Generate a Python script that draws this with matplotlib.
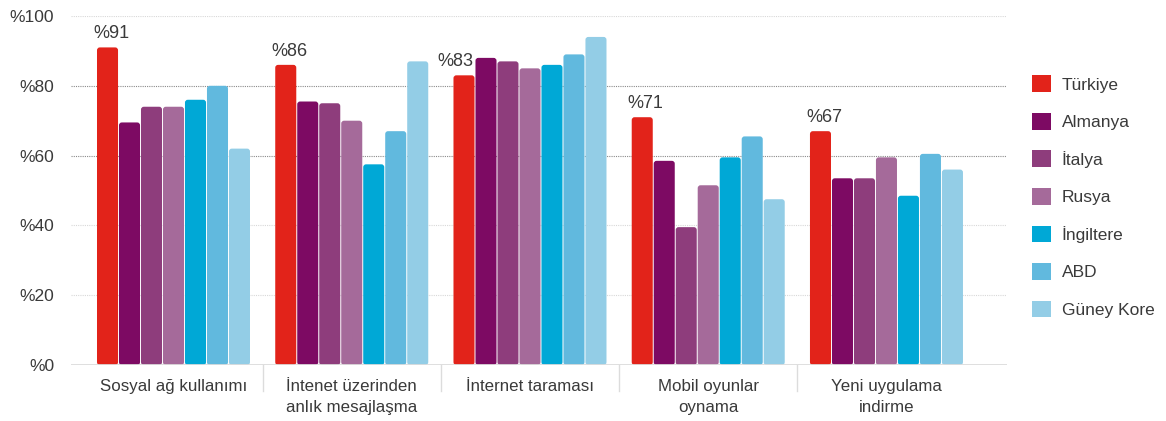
import numpy as np
import matplotlib
matplotlib.use("Agg")
import matplotlib.pyplot as plt
from matplotlib.patches import FancyBboxPatch, Patch

plt.rcParams['font.family'] = ['Liberation Sans', 'DejaVu Sans']

categories = ["Sosyal ağ kullanımı", "İntenet üzerinden\nanlık mesajlaşma",
              "İnternet taraması", "Mobil oyunlar\noynama", "Yeni uygulama\nindirme"]
countries = ["Türkiye", "Almanya", "İtalya", "Rusya", "İngiltere", "ABD", "Güney Kore"]

turkiye = [91, 86, 83, 71, 67]
almanya = [69.5, 75.5, 88, 58.5, 53.5]
italya = [74, 75, 87, 39.5, 53.5]
rusya = [74, 70, 85, 51.5, 59.5]
ingiltere = [76, 57.5, 86, 59.5, 48.5]
abd = [80, 67, 89, 65.5, 60.5]
guney_kore = [62, 87, 94, 47.5, 56]

yticks = [0, 20, 40, 60, 80, 100]
ytick_labels = ["%0", "%20", "%40", "%60", "%80", "%100"]

series = [turkiye, almanya, italya, rusya, ingiltere, abd, guney_kore]
colors = ["#E2231A", "#7D0A63", "#8E3D7C", "#A56A9A", "#00A8D6", "#61B9DE", "#93CDE6"]
txt = "#3a3a3a"

fig = plt.figure(figsize=(11.66, 4.21), dpi=100)
ax = fig.add_axes([0.0609, 0.133, 0.8027, 0.829])

x = np.arange(len(categories))
step = 0.1234
width = 0.118
ax.set_xlim(-0.575, 4.676)
ax.set_ylim(0, 100)

# bars with rounded corners
for i, (vals, col) in enumerate(zip(series, colors)):
    bars = ax.bar(x + (i - 3) * step, vals, width, color=col)
    for b in bars:
        b.remove()
        ax.add_patch(FancyBboxPatch((b.get_x(), 0), b.get_width(), b.get_height(),
                                    boxstyle="round,pad=0,rounding_size=0.016",
                                    mutation_aspect=51, facecolor=col,
                                    edgecolor="none", zorder=3))

# value labels for Türkiye
for j, v in enumerate(turkiye):
    dx = -16 if j == 2 else -4
    ax.annotate("%" + str(v), (x[j] - 3 * step - width / 2, v),
                xytext=(dx * 0.72, 9.8), textcoords="offset points",
                ha="left", va="center", fontsize=13, color=txt)

# gridlines
for t in yticks[1:]:
    c = "#8a8a8a" if t in (60, 80) else "#d8d8d8"
    ax.axhline(t, color=c, lw=0.8, ls=(0, (1, 1)), zorder=1)
ax.axhline(0, color="#dcdcdc", lw=2, zorder=4)

for s in ax.spines.values():
    s.set_visible(False)
ax.set_yticks(yticks)
ax.set_yticklabels(ytick_labels, fontsize=12.5, color=txt)
ax.tick_params(axis="y", length=0, pad=12)

ax.set_xticks(x)
ax.set_xticklabels(categories, fontsize=12.2, color=txt, linespacing=1.5)
ax.tick_params(axis="x", length=0, pad=10)

# separators between groups
for b in x[1:] - 0.5:
    ax.plot([b, b], [0, -7.5], color="#dcdcdc", lw=1, clip_on=False, zorder=4)

handles = [Patch(facecolor=c, edgecolor="none") for c in colors]
fig.legend(handles, countries, loc="upper left", bbox_to_anchor=(0.8794, 0.8375),
           frameon=False, fontsize=12.5, handlelength=1.1, handleheight=1.1,
           handletextpad=0.6, labelspacing=1.17, borderaxespad=0, labelcolor=txt)

fig.savefig("out.png", dpi=100)
